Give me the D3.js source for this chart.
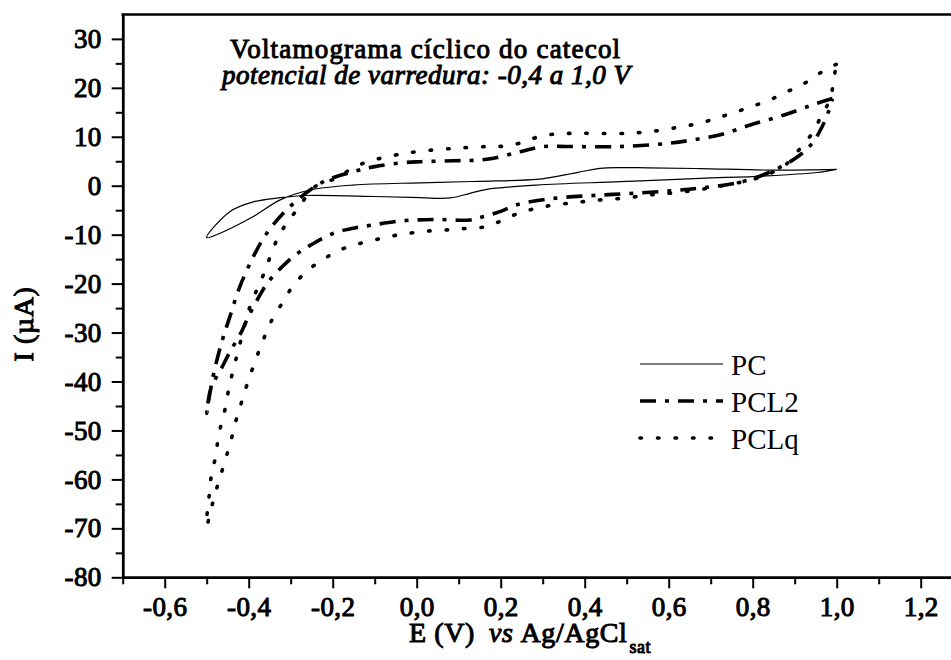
<!DOCTYPE html>
<html>
<head>
<meta charset="utf-8">
<script src="https://cdn.jsdelivr.net/npm/d3@7"></script>
<style>
  html, body { margin: 0; padding: 0; background: #fff; }
  svg { display: block; font-family: "Liberation Serif", "Times New Roman", serif; }
  .bold { font-weight: normal; stroke: #000; stroke-width: 1px; paint-order: stroke; }
</style>
</head>
<body>
<div id="chart"></div>
<script>
const pcCurve = [
  [1.0, 3.35], [0.84, 3.2], [0.675, 3.5], [0.55, 3.65], [0.484, 3.7], [0.437, 3.55],
  [0.40, 3.0], [0.365, 2.4], [0.32, 1.7], [0.286, 1.3], [0.15, 0.9], [0.008, 0.6],
  [-0.151, 0.14], [-0.254, -0.88], [-0.325, -2.9], [-0.389, -6.3], [-0.468, -9.7],
  [-0.5, -10.6], [-0.445, -5.3], [-0.389, -3.3], [-0.325, -2.45], [-0.262, -2.0],
  [-0.1, -2.2], [0.008, -2.45], [0.08, -2.5], [0.127, -1.55], [0.167, -0.74],
  [0.286, 0.14], [0.484, 0.82], [0.675, 1.5], [0.833, 2.0], [0.952, 2.7], [1.0, 3.35]
];

const pcl2Curve = [
  [0.99, 17.8], [0.952, 16.8], [0.873, 14.4], [0.794, 12.4], [0.723, 10.4], [0.66, 9.4],
  [0.604, 8.7], [0.484, 8.0], [0.365, 8.0], [0.301, 8.0], [0.246, 6.95], [0.167, 5.4],
  [0.087, 5.1], [0.008, 4.9], [-0.032, 4.7], [-0.1, 3.9], [-0.151, 2.86], [-0.214, 1.16],
  [-0.254, -0.88], [-0.31, -4.96], [-0.357, -9.7], [-0.389, -14.5], [-0.421, -20.6],
  [-0.445, -26.8], [-0.464, -31.9], [-0.485, -39], [-0.5, -46.5],
  [-0.49, -41.4], [-0.466, -37.5], [-0.445, -34], [-0.417, -29.8], [-0.401, -26.8],
  [-0.373, -22.3], [-0.353, -19.6], [-0.294, -14.5], [-0.246, -11.8], [-0.198, -9.7],
  [-0.151, -8.7], [-0.103, -8.0], [-0.032, -7.15], [0.048, -6.9], [0.127, -7.0],
  [0.159, -6.3], [0.198, -5.3], [0.238, -3.9], [0.325, -2.6], [0.42, -2.0], [0.516, -1.55],
  [0.611, -1.0], [0.69, -0.33], [0.77, 0.7], [0.833, 2.5], [0.9, 5.5], [0.94, 8.5],
  [0.965, 12.0], [0.982, 15.5], [0.99, 17.8]
];

const pclqCurve = [
  [0.999, 24.8], [0.964, 23.2], [0.925, 21.0], [0.882, 19.2], [0.84, 17.5], [0.798, 16.2],
  [0.754, 14.9], [0.714, 13.8], [0.671, 12.7], [0.631, 12.1], [0.587, 11.4], [0.546, 11.0],
  [0.504, 10.7], [0.419, 10.7], [0.377, 10.7], [0.333, 10.6], [0.29, 10.0], [0.25, 8.8],
  [0.21, 8.1], [0.167, 8.0], [0.083, 7.6], [0.0, 6.95], [-0.048, 6.3], [-0.087, 5.6],
  [-0.127, 4.6], [-0.167, 2.86], [-0.19, 1.5], [-0.23, 0.5], [-0.254, -1.2], [-0.282, -4.6],
  [-0.31, -7.7], [-0.333, -11.1], [-0.365, -18.2], [-0.397, -24.7], [-0.42, -32],
  [-0.429, -35], [-0.44, -38.7], [-0.449, -42.2], [-0.456, -45.5], [-0.466, -48.9],
  [-0.474, -52.4], [-0.48, -55.8], [-0.489, -59.2], [-0.493, -62.6], [-0.498, -66],
  [-0.5, -69.5],
  [-0.486, -64.9], [-0.475, -61.5], [-0.463, -58.1], [-0.451, -54.7], [-0.44, -51.3],
  [-0.43, -47.9], [-0.418, -44.5], [-0.405, -40.9], [-0.377, -34.1], [-0.344, -27.3],
  [-0.318, -23.7], [-0.294, -20.4], [-0.258, -17.2], [-0.218, -14.8], [-0.179, -13.0],
  [-0.135, -11.8], [-0.091, -10.9], [-0.048, -10.1], [-0.008, -9.6], [0.036, -9.2],
  [0.079, -9.0], [0.119, -8.7], [0.163, -8.4], [0.202, -7.15], [0.246, -5.5], [0.286, -4.6],
  [0.329, -3.9], [0.373, -3.5], [0.413, -3.1], [0.452, -2.8], [0.5, -2.5], [0.54, -2.0],
  [0.579, -1.7], [0.623, -1.35], [0.667, -0.88], [0.706, -0.33], [0.75, 0.35], [0.794, 1.16],
  [0.833, 2.2], [0.877, 4.2], [0.913, 7.6], [0.944, 11.0], [0.964, 14.4], [0.985, 17.8],
  [0.992, 21.2], [0.999, 24.8]
];

const seriesNames = ["PC", "PCL2", "PCLq"];
const xMajor = [-0.6, -0.4, -0.2, 0.0, 0.2, 0.4, 0.6, 0.8, 1.0, 1.2];
const xMinor = [-0.7, -0.5, -0.3, -0.1, 0.1, 0.3, 0.5, 0.7, 0.9, 1.1];
const yMajor = [-80, -70, -60, -50, -40, -30, -20, -10, 0, 10, 20, 30];
const yMinor = [-75, -65, -55, -45, -35, -25, -15, -5, 5, 15, 25];

const width = 951, height = 660;

// estilos das linhas (um por serie)
const lineStyles = {
    PC:   { width: 1.2, dash: null, cap: "butt" },
    PCL2: { width: 3.6, dash: "16,9,4,9", cap: "butt" },
    PCLq: { width: 3.6, dash: "1.5,16", cap: "round" }
};
const curves = { PC: pcCurve, PCL2: pcl2Curve, PCLq: pclqCurve };

const x = d3.scaleLinear().domain([-0.7, 1.3]).range([122.7, 962.7]);
const y = d3.scaleLinear().domain([-80, 35]).range([577.3, 14.4]);

const svg = d3.select("#chart").append("svg")
    .attr("width", width)
    .attr("height", height);

// Eixos: ticks menores e maiores
const fmtX = d => d.toFixed(1).replace(".", ",");

const gxMinor = svg.append("g")
    .attr("transform", `translate(0,${y(-80)})`)
    .call(d3.axisBottom(x).tickValues(xMinor).tickSize(7).tickSizeOuter(0).tickFormat(""));
const gx = svg.append("g")
    .attr("transform", `translate(0,${y(-80)})`)
    .call(d3.axisBottom(x).tickValues(xMajor).tickSize(11).tickSizeOuter(0).tickPadding(9).tickFormat(fmtX));

const gyMinor = svg.append("g")
    .attr("transform", `translate(${x(-0.7)},0)`)
    .call(d3.axisLeft(y).tickValues(yMinor).tickSize(7).tickSizeOuter(0).tickFormat(""));
const gy = svg.append("g")
    .attr("transform", `translate(${x(-0.7)},0)`)
    .call(d3.axisLeft(y).tickValues(yMajor).tickSize(11).tickSizeOuter(0).tickPadding(10).tickFormat(d => String(d)));

[gxMinor, gx, gyMinor, gy].forEach(g => {
    g.attr("font-family", null).attr("font-size", null);
    g.select(".domain").attr("stroke", "#000").attr("stroke-width", 2.5);
    g.selectAll(".tick line").attr("stroke", "#000").attr("stroke-width", 2);
    g.selectAll(".tick text")
        .attr("class", "bold")
        .attr("fill", "#000")
        .attr("font-size", 27)
        .attr("letter-spacing", 0.4);
});

// moldura superior
svg.append("line")
    .attr("x1", x(-0.7) - 1.25).attr("x2", width)
    .attr("y1", y(35)).attr("y2", y(35))
    .attr("stroke", "#000").attr("stroke-width", 2.5);

// Curvas
const line = d3.line()
    .x(d => x(d[0]))
    .y(d => y(d[1]))
    .curve(d3.curveCatmullRom.alpha(0.5));

seriesNames.forEach(name => {
    const st = lineStyles[name];
    svg.append("path")
        .datum(curves[name])
        .attr("d", line)
        .attr("fill", "none")
        .attr("stroke", "#000")
        .attr("stroke-width", st.width)
        .attr("stroke-linecap", st.cap)
        .attr("stroke-linejoin", "round")
        .attr("stroke-dasharray", st.dash);
});

// Legenda
const legend = svg.append("g").attr("transform", "translate(640,364)");
seriesNames.forEach((name, i) => {
    const st = lineStyles[name];
    legend.append("line")
        .attr("x1", 0).attr("x2", 83)
        .attr("y1", i * 37).attr("y2", i * 37)
        .attr("stroke", "#000")
        .attr("stroke-width", st.width)
        .attr("stroke-linecap", st.cap)
        .attr("stroke-dasharray", st.dash);
    legend.append("text")
        .attr("x", 91)
        .attr("y", i * 37 + 11)
        .attr("font-size", 29)
        .attr("fill", "#000")
        .text(name);
});

// Titulo
svg.append("text")
    .attr("class", "bold")
    .attr("x", 230).attr("y", 58)
    .attr("font-size", 27)
    .attr("letter-spacing", 1.2)
    .text("Voltamograma cíclico do catecol");
svg.append("text")
    .attr("class", "bold")
    .attr("x", 222).attr("y", 84)
    .attr("font-size", 27)
    .attr("font-style", "italic")
    .attr("letter-spacing", 0.5)
    .text("potencial de varredura: -0,4 a 1,0 V");

// Titulos dos eixos
const xt = svg.append("text")
    .attr("class", "bold")
    .attr("x", 409).attr("y", 642)
    .attr("font-size", 28)
    .attr("letter-spacing", 0.6);
xt.append("tspan").text("E (V)");
xt.append("tspan").attr("dx", 14).attr("font-style", "italic").text("vs");
xt.append("tspan").attr("dx", 7).text("Ag/AgCl");
xt.append("tspan").attr("dy", 11).attr("dx", 2).attr("font-size", 18).text("sat");

svg.append("text")
    .attr("class", "bold")
    .attr("transform", "translate(33,324) rotate(-90)")
    .attr("text-anchor", "middle")
    .attr("font-size", 28)
    .attr("letter-spacing", 0.6)
    .text("I (µA)");
</script>
</body>
</html>
